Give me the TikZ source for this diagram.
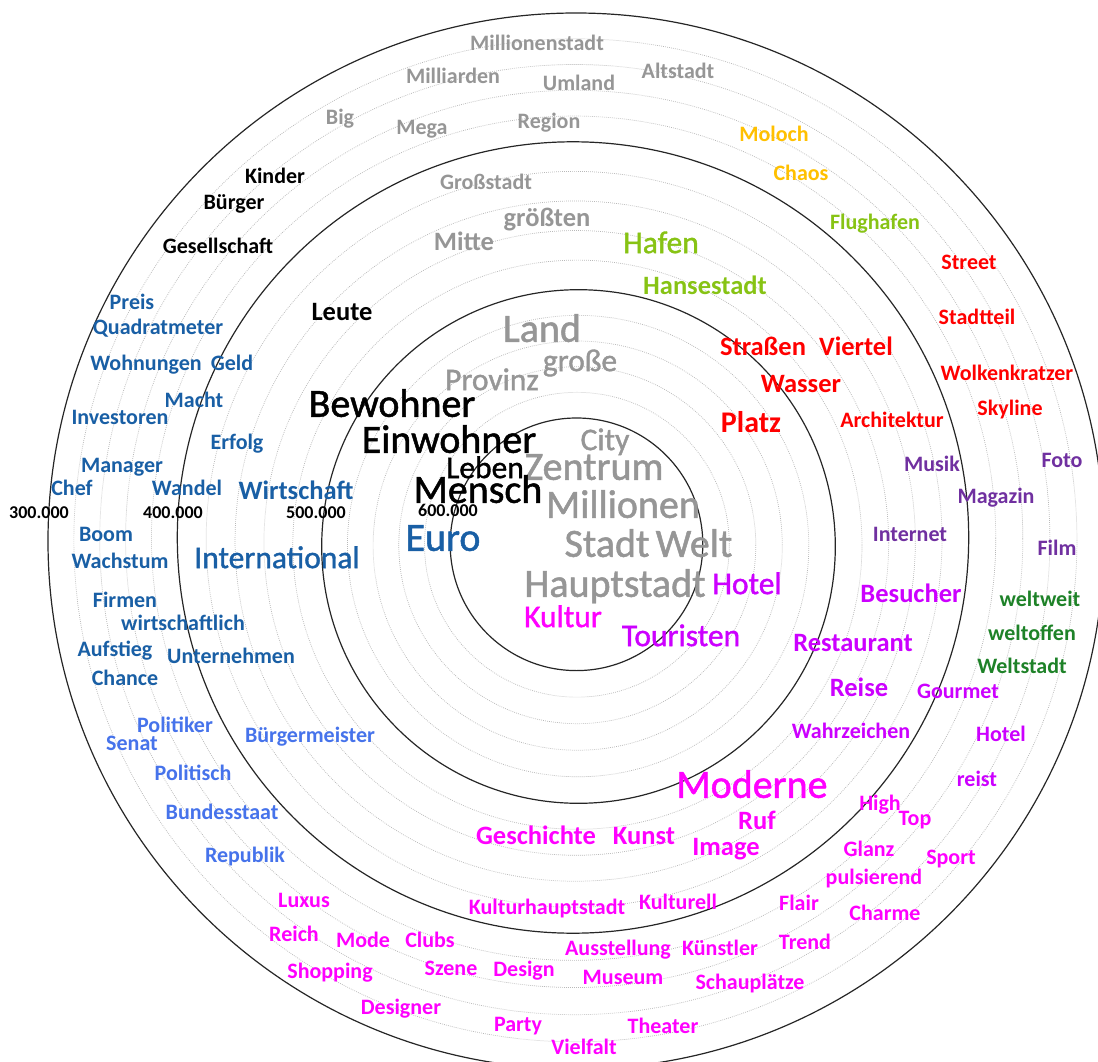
\documentclass[tikz,border=0pt]{standalone}
\usepackage{fontspec}
\setmainfont{Carlito}
\newfontfamily\heavyfont[FakeBold=1.2]{Carlito}

\definecolor{cGray}{RGB}{150,150,150}
\definecolor{cEcon}{RGB}{25,95,165}
\definecolor{cPol}{RGB}{70,115,235}
\definecolor{cRed}{RGB}{255,0,0}
\definecolor{cOrange}{RGB}{255,192,0}
\definecolor{cLime}{RGB}{135,195,20}
\definecolor{cGreen}{RGB}{30,130,40}
\definecolor{cPurple}{RGB}{112,48,160}
\definecolor{cViolet}{RGB}{204,0,255}
\definecolor{cMagenta}{RGB}{255,0,255}

\tikzset{
  ring/.style={line width=1.2pt, black!85},
  guide/.style={line width=0.7pt, black!28, dash pattern=on 0.8pt off 1.2pt},
  word/.style={inner sep=0pt, text depth=0pt, anchor=center},
  tierA/.style={word, text height=25.6pt, font=\heavyfont\fontsize{40}{40}\selectfont},
  tierB/.style={word, text height=20.2pt, font=\heavyfont\fontsize{31.5}{31.5}\selectfont},
  tierBb/.style={word, text height=19.2pt, font=\bfseries\fontsize{30}{30}\selectfont},
  tierC/.style={word, text height=17pt, font=\bfseries\fontsize{26.5}{26.5}\selectfont},
  tierD/.style={word, text height=14.1pt, font=\bfseries\fontsize{22}{22}\selectfont},
  tick/.style={word, text height=11.5pt, font=\bfseries\fontsize{18}{18}\selectfont, text=black},
}

\begin{document}
\begin{tikzpicture}[x=1pt,y=-1pt]
\useasboundingbox (0,0) rectangle (1098,1062);
\clip (0,0) rectangle (1098,1062);
\fill[white] (0,0) rectangle (1098,1062);

% ring centres and radii
\coordinate (c1) at (576.5,544.3);
\coordinate (c2) at (578.5,546.5);
\coordinate (c3) at (573,537.5);
\coordinate (c4) at (576,541);

% dotted intermediate rings
\foreach \ax/\ay/\ar/\bx/\by/\br in {576.5/544.3/126.3/578.5/546.5/256.8,
                                      578.5/546.5/256.8/573/537.5/395.7,
                                      573/537.5/395.7/576/541/528}{
  \foreach \t in {0.2,0.4,0.6,0.8}{
    \draw[guide] ({\ax+\t*(\bx-\ax)},{\ay+\t*(\by-\ay)})
      circle[radius={\ar+\t*(\br-\ar)}];
  }
}

% main rings
\draw[ring] (c1) circle[radius=126.3];
\draw[ring] (c2) circle[radius=256.8];
\draw[ring] (c3) circle[radius=395.7];
\draw[ring] (c4) circle[radius=528];

% scale values
\node[tick] (t300) at (39,513) {300.000};
\node[tick] (t400) at (173,513) {400.000};
\node[tick] (t500) at (316,513) {500.000};
\node[tick] (t600) at (448,511) {600.000};

% gray words
\begin{scope}[text=cGray]
\node[tierD] (Millionenstadt) at (537,43) {Millionenstadt};
\node[tierD] (Milliarden) at (453,76) {Milliarden};
\node[tierD] (Umland) at (579,83) {Umland};
\node[tierD] (Altstadt) at (678,71) {Altstadt};
\node[tierD] (Big) at (340,117) {Big};
\node[tierD] (Mega) at (422,127) {Mega};
\node[tierD] (Region) at (549,121) {Region};
\node[tierD] (Grossstadt) at (486,182) {Großstadt};
\node[tierC] (groessten) at (547,218) {größten};
\node[tierC] (Mitte) at (464,242) {Mitte};
\node[tierA] (Land) at (542,329) {Land};
\node[tierB] (grosse) at (580,361) {große};
\node[tierB] (Provinz) at (492,380) {Provinz};
\node[tierB] (City) at (605,440) {City};
\node[tierA] (Zentrum) at (594,467) {Zentrum};
\node[tierA] (Millionen) at (623,505) {Millionen};
\node[tierA] (Stadt) at (607,544) {Stadt};
\node[tierA] (Welt) at (694,544) {Welt};
\node[tierA] (Hauptstadt) at (615,584) {Hauptstadt};
\end{scope}

% black words
\begin{scope}[text=black]
\node[tierD] (Kinder) at (275,176) {Kinder};
\node[tierD] (Buerger) at (234,202) {Bürger};
\node[tierD] (Gesellschaft) at (218,246) {Gesellschaft};
\node[tierC] (Leute) at (342,312) {Leute};
\node[tierA] (Bewohner) at (392,404) {Bewohner};
\node[tierA] (Einwohner) at (449,440) {Einwohner};
\node[tierB] (Leben) at (485,468) {Leben};
\node[tierA] (Mensch) at (478,490) {Mensch};
\end{scope}

% economy
\begin{scope}[text=cEcon]
\node[tierD] (Preis) at (132,302) {Preis};
\node[tierD] (Quadratmeter) at (158,327) {Quadratmeter};
\node[tierD] (Wohnungen) at (146,363) {Wohnungen};
\node[tierD] (Geld) at (232,363) {Geld};
\node[tierD] (Macht) at (194,400) {Macht};
\node[tierD] (Investoren) at (120,417) {Investoren};
\node[tierD] (Erfolg) at (237,442) {Erfolg};
\node[tierD] (Manager) at (122,465) {Manager};
\node[tierD] (Chef) at (72,488) {Chef};
\node[tierD] (Wandel) at (187,488) {Wandel};
\node[tierC] (Wirtschaft) at (296,491) {Wirtschaft};
\node[tierD] (Boom) at (106,534) {Boom};
\node[tierD] (Wachstum) at (120,561) {Wachstum};
\node[tierB] (International) at (277,558) {International};
\node[tierA] (Euro) at (443,538) {Euro};
\node[tierD] (Firmen) at (125,600) {Firmen};
\node[tierD] (wirtschaftlich) at (183,623) {wirtschaftlich};
\node[tierD] (Aufstieg) at (115,649) {Aufstieg};
\node[tierD] (Unternehmen) at (231,656) {Unternehmen};
\node[tierD] (Chance) at (125,678) {Chance};
\end{scope}

% politics
\begin{scope}[text=cPol]
\node[tierD] (Politiker) at (175,725) {Politiker};
\node[tierD] (Senat) at (132,743) {Senat};
\node[tierD] (Buergermeister) at (310,735) {Bürgermeister};
\node[tierD] (Politisch) at (193,773) {Politisch};
\node[tierD] (Bundesstaat) at (222,812) {Bundesstaat};
\node[tierD] (Republik) at (245,855) {Republik};
\end{scope}

% harbour and traffic
\node[tierD, text=cOrange] (Moloch) at (774,134) {Moloch};
\node[tierD, text=cOrange] (Chaos) at (801,173) {Chaos};
\node[tierD, text=cLime] (Flughafen) at (875,222) {Flughafen};
\node[tierB, text=cLime] (Hafen) at (661,243) {Hafen};
\node[tierC, text=cLime] (Hansestadt) at (705,286) {Hansestadt};

% cityscape
\begin{scope}[text=cRed]
\node[tierD] (Street) at (969,262) {Street};
\node[tierD] (Stadtteil) at (977,317) {Stadtteil};
\node[tierC] (Strassen) at (763,347) {Straßen};
\node[tierC] (Viertel) at (856,347) {Viertel};
\node[tierD] (Wolkenkratzer) at (1007,373) {Wolkenkratzer};
\node[tierC] (Wasser) at (801,384) {Wasser};
\node[tierD] (Skyline) at (1010,408) {Skyline};
\node[tierD] (Architektur) at (892,420) {Architektur};
\node[tierBb] (Platz) at (751,423) {Platz};
\end{scope}

% media
\begin{scope}[text=cPurple]
\node[tierD] (Musik) at (932,464) {Musik};
\node[tierD] (Foto) at (1062,460) {Foto};
\node[tierD] (Magazin) at (996,496) {Magazin};
\node[tierD] (Internet) at (910,534) {Internet};
\node[tierD] (Film) at (1057,548) {Film};
\end{scope}

% openness
\begin{scope}[text=cGreen]
\node[tierD] (weltweit) at (1040,599) {weltweit};
\node[tierD] (weltoffen) at (1032,633) {weltoffen};
\node[tierD] (Weltstadt) at (1022,666) {Weltstadt};
\end{scope}

% tourism
\begin{scope}[text=cViolet]
\node[tierB] (HotelA) at (747,584) {Hotel};
\node[tierB] (Touristen) at (681,636) {Touristen};
\node[tierC] (Besucher) at (911,594) {Besucher};
\node[tierC] (Restaurant) at (853,643) {Restaurant};
\node[tierC] (Reise) at (859,688) {Reise};
\node[tierD] (Gourmet) at (958,691) {Gourmet};
\node[tierD] (Wahrzeichen) at (851,731) {Wahrzeichen};
\node[tierD] (HotelB) at (1001,734) {Hotel};
\node[tierD] (reist) at (977,779) {reist};
\end{scope}

% culture and lifestyle
\begin{scope}[text=cMagenta]
\node[tierB] (Kultur) at (563,617) {Kultur};
\node[tierA] (Moderne) at (752,785) {Moderne};
\node[tierD] (High) at (880,803) {High};
\node[tierD] (Top) at (915,818) {Top};
\node[tierC] (Ruf) at (757,821) {Ruf};
\node[tierC] (Geschichte) at (536,836) {Geschichte};
\node[tierC] (Kunst) at (644,836) {Kunst};
\node[tierC] (Image) at (726,847) {Image};
\node[tierD] (Glanz) at (869,849) {Glanz};
\node[tierD] (Sport) at (951,857) {Sport};
\node[tierD] (pulsierend) at (874,877) {pulsierend};
\node[tierD] (Luxus) at (304,900) {Luxus};
\node[tierD] (Kulturhauptstadt) at (547,907) {Kulturhauptstadt};
\node[tierD] (Kulturell) at (678,902) {Kulturell};
\node[tierD] (Flair) at (799,903) {Flair};
\node[tierD] (Charme) at (885,913) {Charme};
\node[tierD] (Reich) at (294,934) {Reich};
\node[tierD] (Mode) at (363,940) {Mode};
\node[tierD] (Clubs) at (430,940) {Clubs};
\node[tierD] (Trend) at (805,942) {Trend};
\node[tierD] (Ausstellung) at (618,948) {Ausstellung};
\node[tierD] (Kuenstler) at (720,948) {Künstler};
\node[tierD] (Shopping) at (330,971) {Shopping};
\node[tierD] (Szene) at (451,968) {Szene};
\node[tierD] (Design) at (524,969) {Design};
\node[tierD] (Museum) at (623,977) {Museum};
\node[tierD] (Schauplaetze) at (750,982) {Schauplätze};
\node[tierD] (Designer) at (401,1007) {Designer};
\node[tierD] (Party) at (518,1024) {Party};
\node[tierD] (Theater) at (663,1026) {Theater};
\node[tierD] (Vielfalt) at (584,1047) {Vielfalt};
\end{scope}
\end{tikzpicture}
\end{document}
